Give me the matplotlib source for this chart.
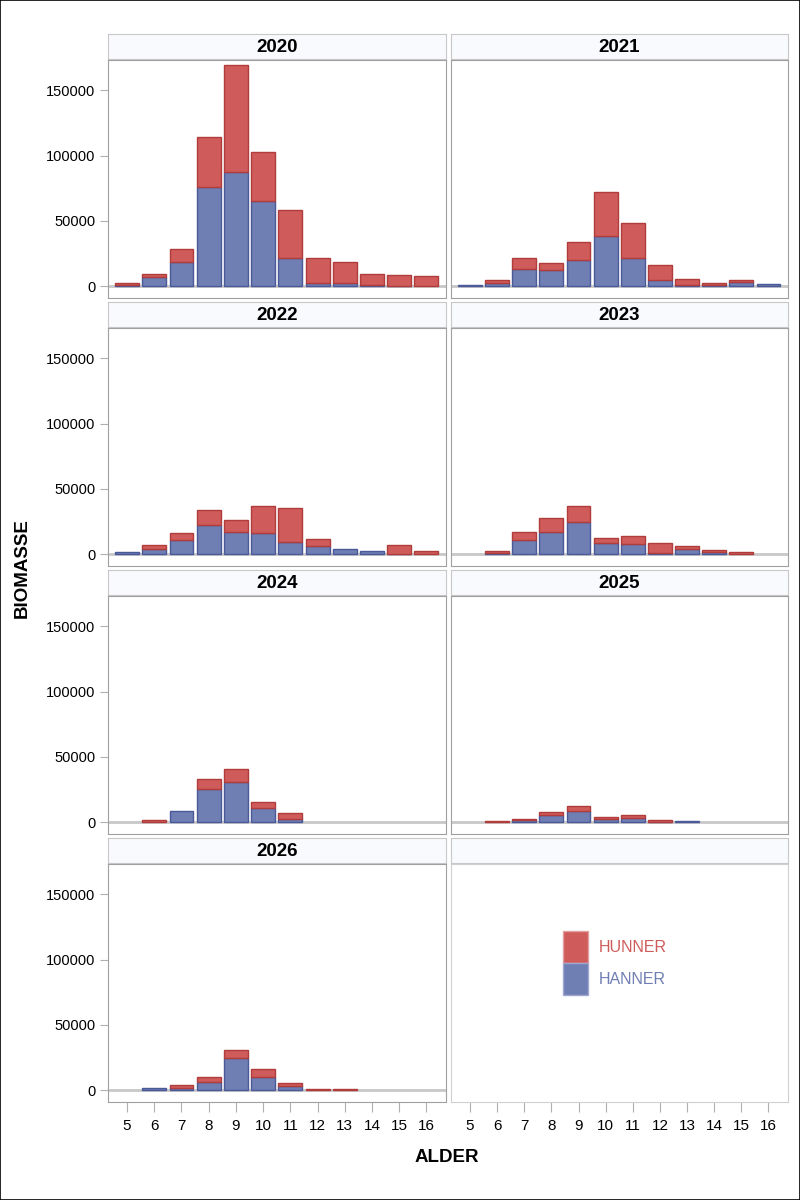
import matplotlib
matplotlib.use("Agg")
import matplotlib.pyplot as plt
from matplotlib.patches import Patch, Rectangle

plt.rcParams['font.family'] = ['Liberation Sans', 'DejaVu Sans']

# alder (age classes)
ages = [5, 6, 7, 8, 9, 10, 11, 12, 13, 14, 15, 16]
years = [2020, 2021, 2022, 2023, 2024, 2025, 2026]

# biomasse, hanner (bottom segment)
hanner = {
    2020: [500, 6900, 18200, 76100, 87100, 65100, 21700, 2300, 2000, 800, 200, 0],
    2021: [500, 2600, 13000, 12000, 20200, 38300, 21200, 4400, 1000, 800, 2800, 1500],
    2022: [1300, 4100, 10500, 22000, 16700, 16200, 9500, 6200, 3600, 2000, 300, 0],
    2023: [0, 800, 11000, 16700, 24600, 8500, 7900, 1000, 3600, 1300, 0, 0],
    2024: [0, 0, 8500, 25100, 30300, 11000, 2600, 0, 0, 0, 0, 0],
    2025: [0, 0, 1500, 5100, 8500, 2300, 3100, 300, 1000, 0, 0, 0],
    2026: [0, 1300, 1800, 6400, 24900, 9700, 3300, 0, 0, 0, 0, 0],
}
# biomasse, hunner (stacked on top)
hunner = {
    2020: [1500, 2100, 10100, 37800, 82400, 37800, 36300, 18900, 16600, 8200, 8500, 7400],
    2021: [0, 1800, 8700, 5400, 13300, 33500, 27300, 11500, 4100, 1500, 1600, 0],
    2022: [0, 2600, 5900, 11600, 9200, 20500, 25600, 5600, 0, 0, 6400, 2300],
    2023: [0, 1500, 5900, 10700, 12100, 3500, 5700, 7500, 2800, 1800, 1500, 0],
    2024: [0, 1300, 0, 7500, 10000, 4400, 4100, 0, 0, 0, 0, 0],
    2025: [0, 500, 1100, 2900, 3500, 1800, 2000, 1200, 0, 0, 0, 0],
    2026: [0, 0, 2300, 3300, 6100, 6700, 2100, 500, 1000, 0, 0, 0],
}
yticks = [0, 50000, 100000, 150000]

red = '#D05B5B'
red_edge = '#B03C3C'
blue = '#6F7EB3'
blue_edge = '#4A5A98'

W, H = 800, 1200
fig = plt.figure(figsize=(8, 12), dpi=100)

col_x = [(108, 446), (451, 788)]
row_y = [(60, 298), (328, 566), (596, 834), (864, 1102)]


def px_axes(x0, x1, y0, y1):
    return fig.add_axes([x0 / W, 1 - y1 / H, (x1 - x0) / W, (y1 - y0) / H])


for i in range(8):
    r, c = divmod(i, 2)
    x0, x1 = col_x[c]
    y0, y1 = row_y[r]

    # header strip
    sax = px_axes(x0, x1, y0 - 26, y0 - 1)
    sax.set_facecolor('#F8FAFE')
    sax.set_xticks([])
    sax.set_yticks([])
    for sp in sax.spines.values():
        sp.set_color('#C8C8C8')
    if i < len(years):
        sax.text(0.5, 0.45, str(years[i]), ha='center', va='center',
                 fontsize=13.5, fontweight='bold', transform=sax.transAxes)

    ax = px_axes(x0, x1, y0, y1)
    ax.set_xlim(4.3, 16.72)
    ax.set_ylim(-9200, 173300)
    frame = '#A0A0A0' if i < len(years) else '#D0D0D0'
    for sp in ax.spines.values():
        sp.set_color(frame)
    ax.tick_params(colors='#B0B0B0', labelcolor='black', labelsize=11)
    ax.tick_params(axis='y', length=6, pad=3, labelsize=10.5)
    ax.tick_params(axis='x', length=7, pad=5)
    ax.set_xticks(ages)
    ax.set_yticks(yticks)
    if c == 0:
        ax.set_yticklabels([str(v) for v in yticks])
    else:
        ax.tick_params(axis='y', left=False, labelleft=False)
    if r == 3:
        ax.set_xticklabels([str(a) for a in ages])
    else:
        ax.tick_params(axis='x', bottom=False, labelbottom=False)

    if i < len(years):
        yr = years[i]
        ax.axhline(0, color='#C8C8C8', lw=2, zorder=1)
        hn = hanner[yr]
        hu = hunner[yr]
        xa = [a for a, v in zip(ages, hn) if v > 0]
        va = [v for v in hn if v > 0]
        ax.bar(xa, va, width=0.88, color=blue, edgecolor=blue_edge, lw=1, zorder=2)
        xb = [a for a, v in zip(ages, hu) if v > 0]
        vb = [v for v in hu if v > 0]
        bb = [b for b, v in zip(hn, hu) if v > 0]
        ax.bar(xb, vb, bottom=bb, width=0.88, color=red, edgecolor=red_edge, lw=1, zorder=2)
    else:
        handles = [Patch(facecolor=red, edgecolor='#E0A0A0', label='HUNNER'),
                   Patch(facecolor=blue, edgecolor='#A0A8D0', label='HANNER')]
        leg = ax.legend(handles=handles, loc='center', bbox_to_anchor=(0.487, 0.584),
                        frameon=False, fontsize=11.5, handlelength=1.55, handleheight=2.75,
                        labelspacing=0, handletextpad=0.7, borderpad=0)
        leg.get_texts()[0].set_color(red)
        leg.get_texts()[1].set_color(blue)

fig.text(22 / W, 1 - 568 / H, 'BIOMASSE', rotation=90, ha='center', va='center',
         fontsize=13.5, fontweight='bold')
fig.text(447 / W, 1 - 1157 / H, 'ALDER', ha='center', va='center',
         fontsize=13.5, fontweight='bold')

fig.patches.append(Rectangle((0.0006, 0.0004), 0.9988, 0.9992, transform=fig.transFigure,
                             fill=False, edgecolor='black', lw=1.2))

fig.savefig('out.png', dpi=100)
